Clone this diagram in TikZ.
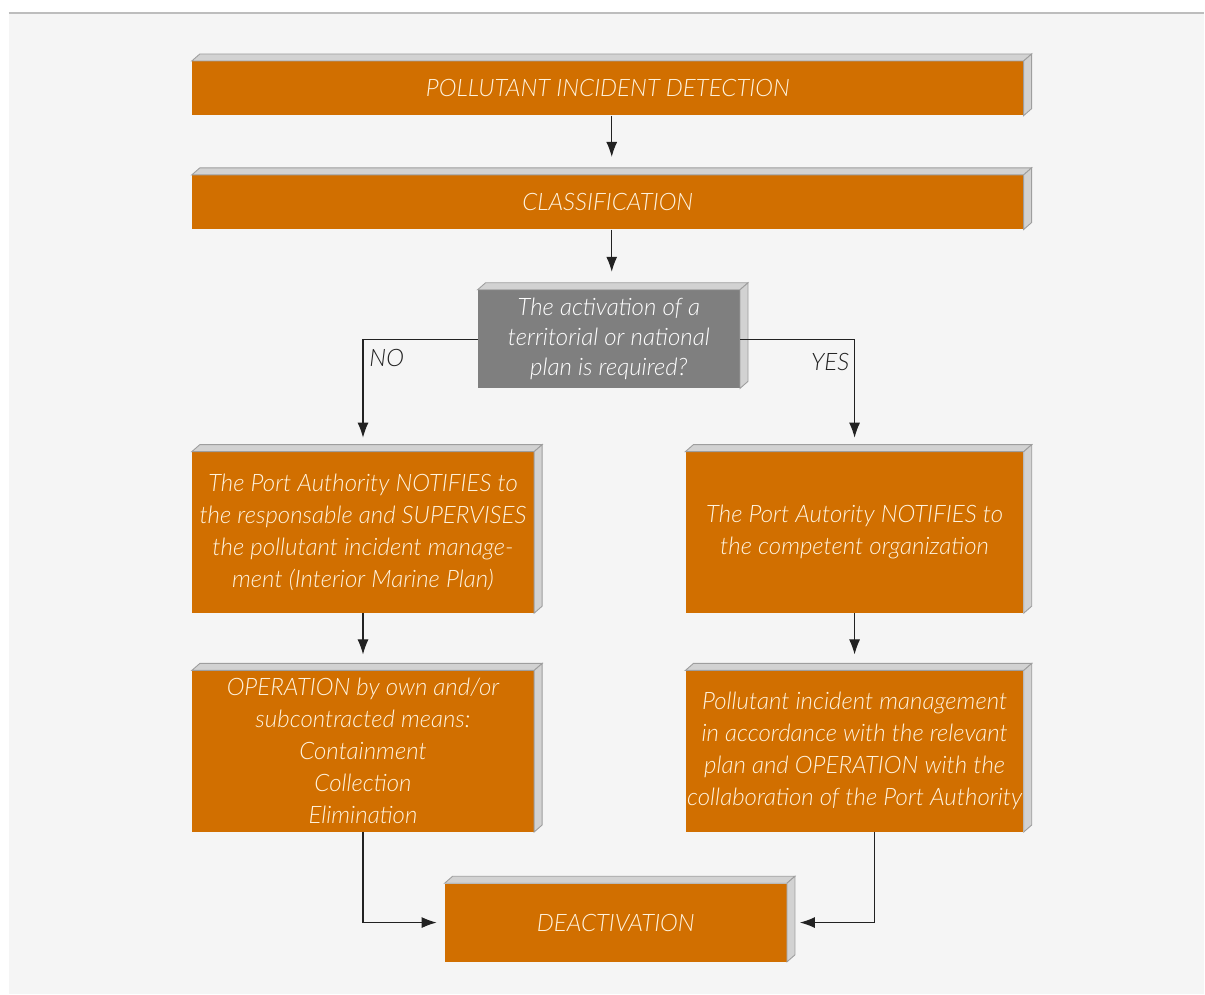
\documentclass[tikz,border=0pt]{standalone}
\usepackage{fontspec}
\setmainfont{Lato}[UprightFont=* Light, ItalicFont=* Light Italic]
\usepackage{tikz}
\usetikzlibrary{arrows.meta,positioning,calc}
\definecolor{PageBg}{HTML}{F5F5F5}
\definecolor{RuleGray}{HTML}{BDBDBD}
\definecolor{StepOrange}{HTML}{D16F00}
\definecolor{AskGray}{HTML}{7F7F7F}
\definecolor{FaceGray}{HTML}{D2D2D2}
\definecolor{EdgeGray}{HTML}{9E9E9E}
\definecolor{TextCream}{HTML}{FFF3DE}
\definecolor{LineDark}{HTML}{222222}

\begin{document}
\begin{tikzpicture}[x=0.02cm, y=-0.02cm,
    stepbox/.style={fill=StepOrange, text=TextCream, font=\fontsize{13.7}{18.2}\selectfont\itshape, align=center, inner sep=0pt, anchor=north west},
    askbox/.style={stepbox, fill=AskGray, text=white, font=\fontsize{13.7}{17}\selectfont\itshape},
    arr/.style={-{Latex[length=3mm, width=2.2mm]}, draw=LineDark, line width=0.6pt},
    lbl/.style={font=\fontsize{13.7}{16}\selectfont\itshape, text=LineDark}
  ]
    % page
    \fill[white] (0,0) rectangle (1205,995);
    \fill[PageBg] (9,13) rectangle (1205,995);
    \draw[RuleGray, line width=1.2pt] (9,13) -- (1205,13);

    % steps
    \node[stepbox, minimum width=16.64cm, minimum height=1.08cm] (detect) at (192,61) {POLLUTANT INCIDENT DETECTION};
    \node[stepbox, minimum width=16.64cm, minimum height=1.08cm] (classif) at (192,175) {CLASSIFICATION};
    \node[askbox, minimum width=5.24cm, minimum height=1.96cm] (decide) at (478,290) {The activation of a\\territorial or national\\plan is required?};
    \node[stepbox, minimum width=6.84cm, minimum height=3.22cm] (notifyno) at (192,452) {The Port Authority NOTIFIES to\\the responsable and SUPERVISES\\the pollutant incident manage-\\ment (Interior Marine Plan)};
    \node[stepbox, minimum width=6.76cm, minimum height=3.22cm] (notifyyes) at (686,452) {The Port Autority NOTIFIES to\\the competent organization};
    \node[stepbox, minimum width=6.84cm, minimum height=3.22cm] (opown) at (192,671) {OPERATION by own and/or\\subcontracted means:\\Containment\\Collection\\Elimination};
    \node[stepbox, minimum width=6.76cm, minimum height=3.22cm] (opplan) at (686,671) {Pollutant incident management\\in accordance with the relevant\\plan and OPERATION with the\\collaboration of the Port Authority};
    \node[stepbox, minimum width=6.84cm, minimum height=1.56cm] (deact) at (445,884) {DEACTIVATION};

    % 3D faces
    \foreach \n in {detect,classif,decide,notifyno,notifyyes,opown,opplan,deact} {
      \filldraw[FaceGray, draw=EdgeGray, line width=0.5pt]
        (\n.north west) -- ++(8,-7) -- ($(\n.north east)+(8,-7)$) -- (\n.north east) -- cycle;
      \filldraw[FaceGray, draw=EdgeGray, line width=0.5pt]
        (\n.north east) -- ++(8,-7) -- ($(\n.south east)+(8,-7)$) -- (\n.south east) -- cycle;
    }

    % connectors
    \coordinate (detectout) at ($(detect.south)+(4,0)$);
    \coordinate (classifout) at ($(classif.south)+(4,0)$);
    \draw[arr, shorten >=0.36cm] (detectout) -- (detectout |- classif.north);
    \draw[arr, shorten >=0.36cm] (classifout) -- (classifout |- decide.north);
    \draw[arr, shorten >=0.28cm] (decide.west) -| (notifyno.north);
    \draw[arr, shorten >=0.28cm] (decide.east) -| (notifyyes.north);
    \draw[arr, shorten >=0.32cm] (notifyno) -- (opown);
    \draw[arr, shorten >=0.32cm] (notifyyes) -- (opplan);
    \draw[arr, shorten >=0.16cm] (opown.south) |- (deact.west);
    \coordinate (opplanout) at ($(opplan.south)+(20,0)$);
    \draw[arr, shorten >=0.26cm] (opplanout) |- (deact.east);

    % branch labels
    \node[lbl] (nolbl) at (387,358) {NO};
    \node[lbl] (yeslbl) at (831,362) {YES};
\end{tikzpicture}
\end{document}
